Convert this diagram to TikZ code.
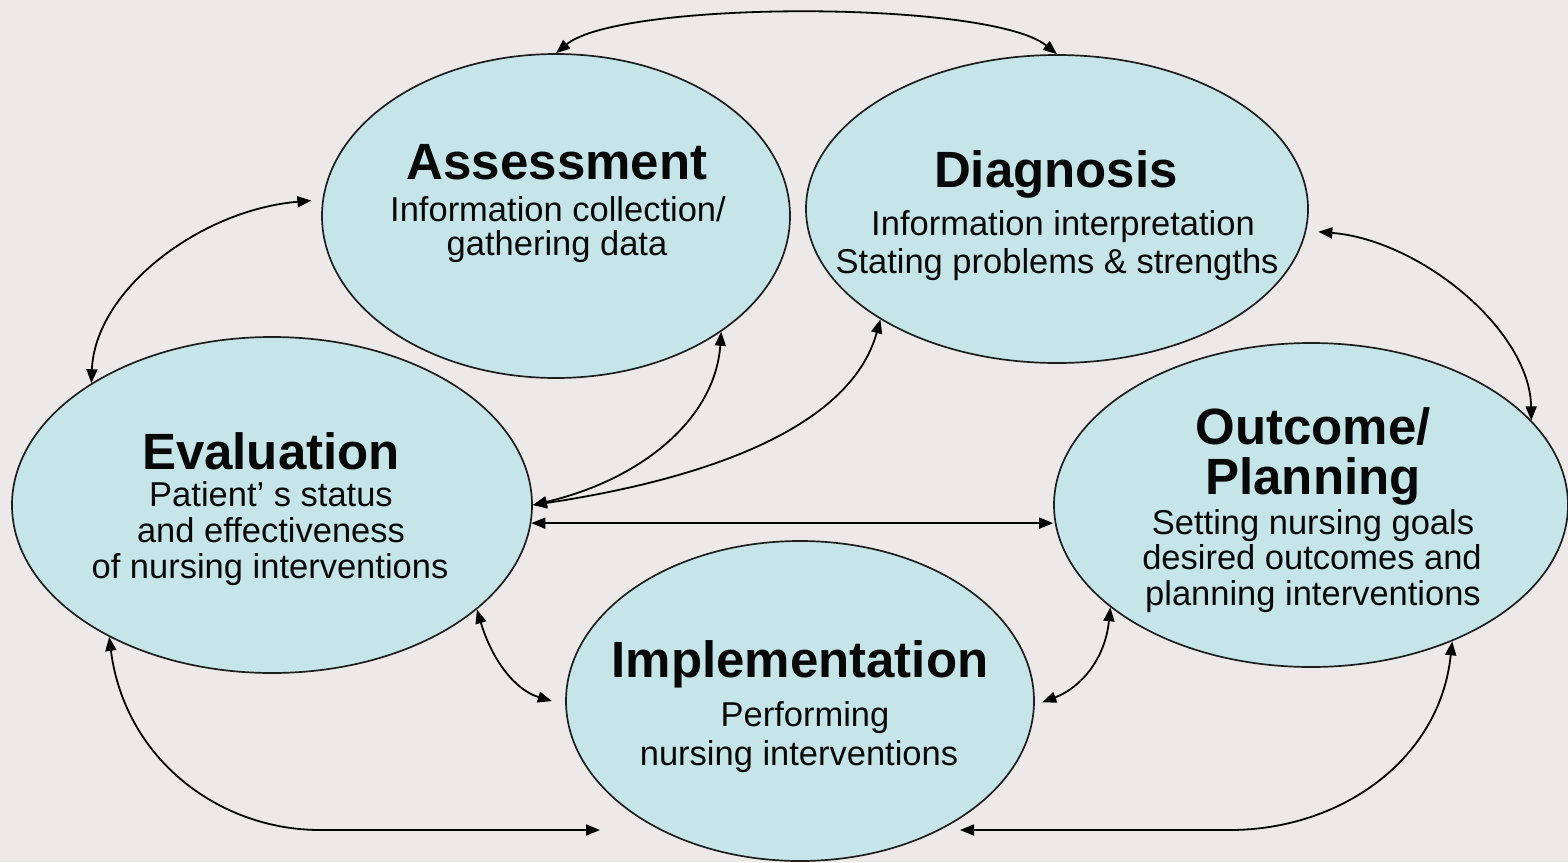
\documentclass[tikz,border=0pt]{standalone}
\usepackage{fontspec}
\setmainfont{Liberation Sans}
\usetikzlibrary{shapes.geometric,arrows.meta}
\definecolor{bgc}{RGB}{236,233,232}
\definecolor{ellc}{RGB}{197,229,232}
\definecolor{edgec}{RGB}{30,30,30}
\definecolor{txtc}{RGB}{8,8,8}
\tikzset{
  phase/.style={ellipse, draw=edgec, line width=1.7pt, fill=ellc, inner sep=0pt},
  ttl/.style={anchor=base, font=\fontsize{51}{51}\selectfont\bfseries, text=txtc, inner sep=0pt},
  sub/.style={anchor=base, font=\fontsize{34.5}{34.5}\selectfont, text=txtc, inner sep=0pt},
  conn/.style={line width=1.8pt, draw=black, {Triangle[length=14pt,width=11pt]}-{Triangle[length=14pt,width=11pt]}},
}
\begin{document}
\begin{tikzpicture}[x=1pt,y=-1pt]
\useasboundingbox (0,0) rectangle (1568,862);
\fill[bgc] (0,0) rectangle (1568,862);
\clip (0,0) rectangle (1568,862);

% phases
\node[phase, minimum width=468pt, minimum height=324pt] (ass) at (556,216) {};
\node[phase, minimum width=502pt, minimum height=308pt] (dia) at (1057,209) {};
\node[phase, minimum width=520pt, minimum height=336pt] (eva) at (272,505) {};
\node[phase, minimum width=514pt, minimum height=324pt] (out) at (1311,505) {};
\node[phase, minimum width=468pt, minimum height=320pt] (imp) at (800,701) {};

% texts
\node[ttl] (assT) at (557,179) {Assessment};
\node[sub] (assA) at (558,221) {Information collection/};
\node[sub] (assB) at (557,255) {gathering data};

\node[ttl] (diaT) at (1056,187) {Diagnosis};
\node[sub] (diaA) at (1063,235) {Information interpretation};
\node[sub] (diaB) at (1057,273) {Stating problems \& strengths};

\node[ttl] (evaT) at (271,469) {Evaluation};
\node[sub] (evaA) at (271,506) {Patient’ s status};
\node[sub] (evaB) at (271,542) {and effectiveness};
\node[sub] (evaC) at (270,578) {of nursing interventions};

\node[ttl] (outT) at (1313,444) {Outcome/};
\node[ttl] (outU) at (1313,494) {Planning};
\node[sub] (outA) at (1313,534) {Setting nursing goals};
\node[sub] (outB) at (1312,569) {desired outcomes and};
\node[sub] (outC) at (1313,605) {planning interventions};

\node[ttl] (impT) at (800,677) {Implementation};
\node[sub] (impA) at (805,726) {Performing};
\node[sub] (impB) at (799,765) {nursing interventions};

% free ends of the two bottom connectors
\coordinate (bl) at (600,830);
\coordinate (br) at (960,830);

% connectors
\draw[conn] (ass.north) .. controls (620,0) and (990,0) .. (dia.north);
\draw[conn, shorten <=11pt] (ass.176.7) .. controls (200,210) and (95,290) .. (eva.146.1);
\draw[conn, shorten <=12pt] (dia.-5.5) .. controls (1420,240) and (1530,330) .. (out.21.8);
\draw[conn] (eva.0.7) .. controls (640,480) and (715,420) .. (ass.-35.6);
\draw[conn] (eva.0.7) .. controls (700,480) and (850,430) .. (dia.212.2);
\draw[conn] (eva.-4.4) -- (eva.-4.4 -| out.west);
\draw[conn, shorten >=14pt] (eva.-27) .. controls (492,660) and (515,690) .. (imp.181);
\draw[conn, shorten <=8pt] (imp.-1.5) .. controls (1080,688) and (1105,660) .. (out.207.8);
\draw[conn] (eva.219.8) .. controls (125,760) and (220,830) .. (320,830) -- (bl);
\draw[conn] (br) -- (1230,830) .. controls (1340,830) and (1440,760) .. (out.-44.2);
\end{tikzpicture}
\end{document}
